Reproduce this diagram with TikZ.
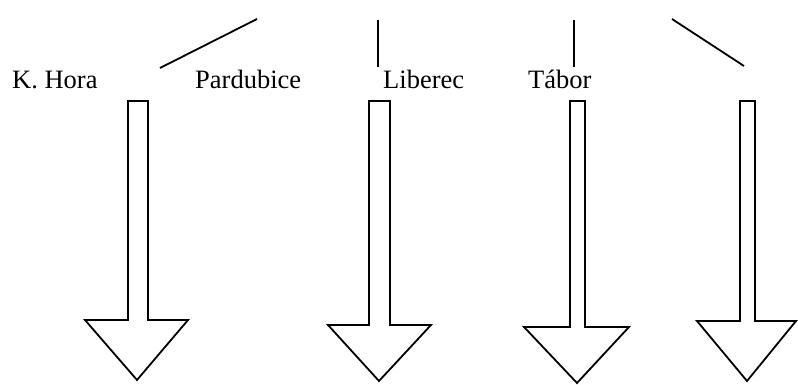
\documentclass[tikz,border=0pt]{standalone}
\usepackage{fontspec}
\setmainfont{Liberation Serif}
\begin{document}
\begin{tikzpicture}[x=1pt,y=-1pt,
  lbl/.style={anchor=base west,inner sep=0pt,font=\fontsize{26.5}{30}\selectfont},
  bigarrow/.style={draw=black,line width=1.8pt,line join=miter,fill=white},
  branch/.style={draw=black,line width=1.8pt}]
\useasboundingbox (0,0) rectangle (798,385);
% labels
\node[lbl] (kh) at (12,89) {K. Hora};
\node[lbl] (pa) at (195,89) {Pardubice};
\node[lbl] (li) at (383,89) {Liberec};
\node[lbl] (ta) at (528,89) {Tábor};
% branch lines
\coordinate (a1) at (257,19); \coordinate (b1) at (160,68);
\coordinate (a2) at (378,20); \coordinate (b2) at (378,67);
\coordinate (a3) at (574,20); \coordinate (b3) at (574,67);
\coordinate (a4) at (672,19); \coordinate (b4) at (744,66);
\draw[branch] (a1) -- (b1);
\draw[branch] (a2) -- (b2);
\draw[branch] (a3) -- (b3);
\draw[branch] (a4) -- (b4);
% block arrows
\draw[bigarrow] (128,101) -- (148,101) -- (148,320) -- (188,320) -- (137,380) -- (85,320) -- (128,320) -- cycle;
\draw[bigarrow] (369,101) -- (390,101) -- (390,325) -- (431,325) -- (379,381) -- (328,325) -- (369,325) -- cycle;
\draw[bigarrow] (570,101) -- (585,101) -- (585,327) -- (629,327) -- (577,383) -- (524,327) -- (570,327) -- cycle;
\draw[bigarrow] (740,101) -- (755,101) -- (755,321) -- (796,321) -- (747,381) -- (697,321) -- (740,321) -- cycle;
\end{tikzpicture}
\end{document}
